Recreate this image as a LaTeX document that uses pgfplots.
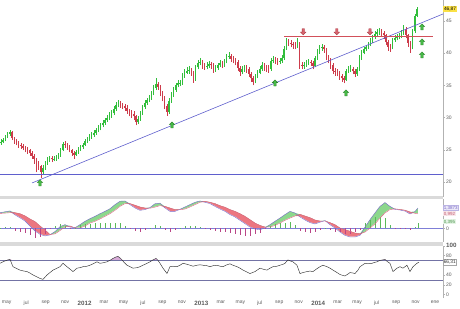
\documentclass[border=0pt]{standalone}
\usepackage{fontspec}
\setmainfont{Liberation Sans}
\usepackage{pgfplots}
\usepackage{pgfplotstable}
\pgfplotsset{compat=1.18}

\definecolor{cup}{RGB}{50,190,60}
\definecolor{cdn}{RGB}{205,60,75}
\definecolor{trend}{RGB}{95,95,205}
\definecolor{resist}{RGB}{210,80,90}
\definecolor{macdc}{RGB}{120,105,200}
\definecolor{sigc}{RGB}{215,100,125}
\definecolor{fillg}{RGB}{140,215,140}
\definecolor{fillr}{RGB}{236,118,128}
\definecolor{histp}{RGB}{90,185,90}
\definecolor{histn}{RGB}{185,70,135}
\definecolor{rsic}{RGB}{50,50,50}
\definecolor{rsil}{RGB}{115,115,165}
\definecolor{rsif}{RGB}{215,170,215}
\definecolor{band}{RGB}{218,218,218}
\definecolor{lab}{RGB}{90,90,90}
\definecolor{arrg}{RGB}{70,185,70}
\definecolor{arrgd}{RGB}{30,120,30}
\definecolor{arrr}{RGB}{215,100,110}
\definecolor{arrrd}{RGB}{165,55,65}
\definecolor{ybox}{RGB}{250,225,70}

\pgfdeclareplotmark{uparr}{%
 \pgfpathmoveto{\pgfqpoint{0pt}{3.2pt}}%
 \pgfpathlineto{\pgfqpoint{2.8pt}{0.4pt}}%
 \pgfpathlineto{\pgfqpoint{1.2pt}{0.4pt}}%
 \pgfpathlineto{\pgfqpoint{1.2pt}{-3pt}}%
 \pgfpathlineto{\pgfqpoint{-1.2pt}{-3pt}}%
 \pgfpathlineto{\pgfqpoint{-1.2pt}{0.4pt}}%
 \pgfpathlineto{\pgfqpoint{-2.8pt}{0.4pt}}%
 \pgfpathclose
 \pgfusepathqfillstroke}
\pgfdeclareplotmark{dnarr}{%
 \pgfpathmoveto{\pgfqpoint{0pt}{-3.2pt}}%
 \pgfpathlineto{\pgfqpoint{2.8pt}{-0.4pt}}%
 \pgfpathlineto{\pgfqpoint{1.2pt}{-0.4pt}}%
 \pgfpathlineto{\pgfqpoint{1.2pt}{3pt}}%
 \pgfpathlineto{\pgfqpoint{-1.2pt}{3pt}}%
 \pgfpathlineto{\pgfqpoint{-1.2pt}{-0.4pt}}%
 \pgfpathlineto{\pgfqpoint{-2.8pt}{-0.4pt}}%
 \pgfpathclose
 \pgfusepathqfillstroke}

\pgfplotstableread{
i o h l c
0 26.0 26.6 25.8 26.2
1 26.2 26.9 26.0 26.5
2 26.5 27.3 26.3 27.0
3 27.0 27.8 26.8 27.5
4 27.5 28.1 27.2 27.7
5 27.7 27.9 26.5 26.8
6 26.8 27.0 25.9 26.2
7 26.2 26.6 25.7 26.0
8 26.0 26.3 25.3 25.8
9 25.8 26.1 25.2 25.6
10 25.6 25.9 24.9 25.3
11 25.3 25.6 24.6 25.1
12 25.1 25.4 24.4 24.9
13 24.9 25.2 24.1 24.5
14 24.5 24.8 23.6 24.1
15 24.1 24.3 22.8 23.6
16 23.6 23.8 21.5 22.6
17 22.6 23.2 21.9 22.5
18 22.5 22.7 20.6 21.6
19 21.6 22.6 21.2 22.1
20 22.1 23.3 21.9 22.9
21 22.9 23.9 22.6 23.5
22 23.5 24.1 23.1 23.7
23 23.7 24.0 23.1 23.5
24 23.5 24.0 23.2 23.6
25 23.6 24.2 23.3 23.8
26 23.8 24.5 23.5 24.1
27 24.1 25.3 23.9 25.0
28 25.0 26.2 24.8 25.9
29 25.9 26.3 25.3 25.7
30 25.7 26.0 25.0 25.4
31 25.4 25.7 24.6 25.0
32 25.0 25.2 24.1 24.5
33 24.5 24.8 23.6 24.2
34 24.2 25.0 24.0 24.7
35 24.7 25.4 24.4 25.0
36 25.0 25.7 24.8 25.4
37 25.4 26.1 25.2 25.8
38 25.8 26.6 25.6 26.3
39 26.3 27.0 26.0 26.7
40 26.7 27.4 26.4 27.0
41 27.0 27.7 26.7 27.3
42 27.3 28.0 27.0 27.6
43 27.6 28.4 27.3 28.0
44 28.0 28.8 27.7 28.3
45 28.3 29.1 28.0 28.8
46 28.8 29.6 28.5 29.2
47 29.2 30.0 28.9 29.6
48 29.6 30.4 29.3 30.0
49 30.0 30.8 29.6 30.3
50 30.3 31.2 30.0 30.7
51 30.7 31.8 30.4 31.4
52 31.4 32.4 31.1 31.9
53 31.9 32.8 31.6 32.2
54 32.2 32.6 31.5 32.0
55 32.0 32.3 31.3 31.8
56 31.8 32.1 31.0 31.5
57 31.5 31.9 30.6 31.1
58 31.1 31.4 30.2 30.8
59 30.8 31.2 30.0 30.6
60 30.6 31.0 29.6 30.2
61 30.2 30.4 28.8 29.3
62 29.3 30.2 29.0 29.8
63 29.8 31.0 29.5 30.6
64 30.6 32.0 30.4 31.7
65 31.7 32.7 31.4 32.3
66 32.3 33.1 32.0 32.7
67 32.7 33.5 32.4 33.1
68 33.1 34.2 32.8 33.8
69 33.8 35.0 33.5 34.6
70 34.6 36.2 34.3 35.2
71 35.2 35.6 34.3 34.8
72 34.8 35.0 33.3 33.8
73 33.8 34.1 32.5 33.0
74 33.0 33.3 31.3 31.8
75 31.8 32.1 30.3 30.9
76 30.9 33.0 30.6 32.6
77 32.6 34.0 32.3 33.6
78 33.6 34.7 33.2 34.3
79 34.3 35.4 34.0 35.0
80 35.0 35.8 34.7 35.3
81 35.3 35.9 34.9 35.4
82 35.4 36.9 35.1 36.5
83 36.5 37.5 36.2 37.0
84 37.0 37.9 36.8 37.3
85 37.3 38.0 36.8 37.4
86 37.4 37.7 36.5 37.0
87 37.0 37.2 35.4 35.9
88 35.9 38.2 35.7 37.8
89 37.8 38.9 37.5 38.5
90 38.5 39.2 38.1 38.7
91 38.7 39.0 37.6 38.1
92 38.1 38.5 37.4 37.9
93 37.9 38.6 37.5 38.0
94 38.0 38.8 37.7 38.3
95 38.3 38.7 37.6 38.1
96 38.1 38.4 37.0 37.5
97 37.5 38.2 37.1 37.7
98 37.7 38.5 37.4 38.1
99 38.1 38.9 37.8 38.4
100 38.4 38.8 37.7 38.2
101 38.2 39.1 37.9 38.7
102 38.7 39.9 38.4 39.5
103 39.5 40.2 39.1 39.6
104 39.6 39.9 38.6 39.1
105 39.1 39.5 38.4 38.9
106 38.9 39.2 38.1 38.6
107 38.6 38.9 37.2 37.7
108 37.7 38.0 36.5 37.1
109 37.1 38.0 36.7 37.5
110 37.5 38.2 37.1 37.7
111 37.7 38.1 37.0 37.6
112 37.6 37.9 36.3 36.8
113 36.8 37.1 35.5 36.1
114 36.1 36.4 35.0 35.6
115 35.6 36.8 35.3 36.4
116 36.4 37.4 36.1 37.0
117 37.0 38.0 36.7 37.6
118 37.6 38.6 37.3 38.1
119 38.1 38.5 37.3 37.8
120 37.8 38.2 37.1 37.6
121 37.6 38.1 37.0 37.5
122 37.5 39.2 37.3 38.8
123 38.8 39.5 38.5 39.0
124 39.0 39.4 38.3 38.8
125 38.8 39.2 38.2 38.7
126 38.7 39.3 38.3 38.8
127 38.8 39.7 38.5 39.2
128 39.2 41.1 39.0 40.7
129 40.7 42.3 40.5 41.8
130 41.8 42.2 41.1 41.6
131 41.6 42.0 40.9 41.4
132 41.4 41.8 40.7 41.2
133 41.2 41.7 40.6 41.1
134 41.1 42.3 40.8 41.5
135 41.5 41.7 37.6 38.2
136 38.2 38.6 37.5 38.0
137 38.0 38.7 37.6 38.2
138 38.2 38.9 37.9 38.4
139 38.4 39.1 38.1 38.6
140 38.6 39.0 38.0 38.5
141 38.5 38.8 37.5 38.0
142 38.0 39.6 37.8 39.3
143 39.3 40.6 39.0 40.2
144 40.2 41.3 39.9 40.8
145 40.8 41.5 40.4 41.0
146 41.0 41.3 40.1 40.6
147 40.6 40.8 38.9 39.4
148 39.4 39.7 38.4 38.9
149 38.9 39.2 37.6 38.2
150 38.2 38.4 36.7 37.2
151 37.2 37.7 36.5 37.1
152 37.1 37.5 36.4 36.9
153 36.9 37.2 35.9 36.4
154 36.4 36.8 35.6 36.1
155 36.1 36.5 35.3 35.9
156 35.9 37.6 35.7 37.2
157 37.2 38.0 36.9 37.5
158 37.5 38.1 37.1 37.6
159 37.6 37.9 36.7 37.2
160 37.2 37.5 36.3 36.8
161 36.8 37.9 36.5 37.5
162 37.5 39.7 37.3 39.3
163 39.3 40.5 39.0 40.1
164 40.1 41.0 39.8 40.6
165 40.6 41.3 40.3 40.9
166 40.9 41.8 40.6 41.4
167 41.4 42.3 41.1 41.9
168 41.9 42.9 41.6 42.5
169 42.5 43.5 42.2 43.0
170 43.0 43.8 42.7 43.3
171 43.3 43.9 42.9 43.4
172 43.4 43.8 42.7 43.2
173 43.2 43.5 42.2 42.8
174 42.8 43.0 41.2 41.7
175 41.7 42.0 40.4 41.0
176 41.0 41.4 40.2 40.8
177 40.8 42.3 40.6 42.0
178 42.0 42.8 41.8 42.3
179 42.3 43.0 42.0 42.5
180 42.5 43.1 42.2 42.7
181 42.7 43.6 42.4 43.1
182 43.1 44.3 42.8 43.7
183 43.7 44.0 42.3 42.8
184 42.8 43.0 41.0 41.6
185 41.6 41.9 40.1 40.8
186 40.8 43.7 40.6 43.4
187 43.4 46.1 43.2 45.8
188 45.8 47.1 45.6 46.87
}\candles

\pgfplotstableread{
k macd sig
0 1.07 1.02
1 1.13 1.04
2 1.19 1.07
3 0.92 1.07
4 0.72 1.00
5 0.50 0.85
6 0.16 0.64
7 -0.18 0.46
8 -0.41 0.16
9 -0.52 -0.11
10 -0.45 -0.42
11 -0.22 -0.38
12 0.12 -0.15
13 0.25 0.10
14 0.09 0.16
15 0.04 0.03
16 0.25 0.02
17 0.48 0.16
18 0.66 0.36
19 0.82 0.48
20 1.00 0.64
21 1.16 0.82
22 1.34 1.00
23 1.62 1.23
24 1.85 1.50
25 1.87 1.69
26 1.62 1.69
27 1.39 1.58
28 1.23 1.46
29 1.28 1.39
30 1.42 1.37
31 1.68 1.45
32 1.72 1.55
33 1.39 1.50
34 1.16 1.39
35 1.16 1.28
36 1.30 1.27
37 1.46 1.32
38 1.62 1.46
39 1.78 1.62
40 1.87 1.78
41 1.78 1.85
42 1.69 1.78
43 1.50 1.69
44 1.32 1.55
45 1.16 1.44
46 0.94 1.28
47 0.78 1.16
48 0.55 1.00
49 0.32 0.82
50 0.09 0.59
51 -0.05 0.36
52 -0.09 0.20
53 0.02 0.09
54 0.25 0.09
55 0.48 0.20
56 0.70 0.36
57 0.94 0.55
58 1.16 0.70
59 1.05 0.84
60 0.78 0.96
61 0.57 0.84
62 0.39 0.73
63 0.30 0.57
64 0.42 0.50
65 0.53 0.50
66 0.25 0.39
67 0.02 0.25
68 -0.25 0.02
69 -0.48 -0.09
70 -0.59 -0.20
71 -0.59 -0.32
72 -0.48 -0.36
73 0.08 -0.26
74 0.59 0.02
75 1.05 0.30
76 1.50 0.70
77 1.76 1.05
78 1.50 1.28
79 1.30 1.33
80 1.25 1.29
81 1.18 1.24
82 0.98 1.12
83 1.15 1.03
83.6 1.3873 0.992
}\macdtab

\pgfplotstableread{
px r
0 64
4 68
8 71
10 72
13 57
17 53
20 50
24 48
27 47
30 44
33 40
37 36
40 33
43 31
47 40
50 45
53 50
57 54
60 57
63 64
67 57
70 52
73 47
77 54
80 55
83 57
87 58
90 60
93 63
97 67
100 64
103 65
107 67
110 70
113 74
116 77
118 78
120 75
122 71
124 66
127 60
130 57
133 54
137 55
140 57
143 60
147 64
150 67
153 71
156 74
158 70
160 64
163 54
167 43
170 57
173 58
177 57
180 60
183 64
187 62
190 60
193 58
197 60
200 61
203 60
207 59
210 57
213 59
217 60
220 58
223 57
227 61
230 63
233 60
237 57
240 54
243 50
247 46
250 43
255 47
260 54
263 52
267 50
270 54
273 57
277 58
280 60
283 62
285 64
288 71
290 69
293 67
297 60
300 43
303 45
307 47
310 48
313 47
317 53
320 57
323 60
327 57
330 54
333 50
337 45
340 41
343 39
345 38
348 42
350 45
353 44
355 43
358 50
360 57
363 61
365 64
368 63
372 64
375 66
377 67
380 70
383 71
385 72
387 68
390 64
393 47
397 54
400 57
403 54
407 60
410 47
413 57
417 64
419 66.31
}\rsitab

\pgfplotsset{
  panel/.style={
    scale only axis, width=443pt,
    xmin=3.312, xmax=48.82,
    axis y line*=right,
    y axis line style={draw=gray!60, line width=0.4pt},
    ytick pos=right, yticklabel pos=right,
    tick align=outside, major tick length=2pt,
    y tick style={draw=gray!60, line width=0.4pt},
    yticklabel style={font=\fontsize{5}{6}\selectfont, text=lab, inner sep=1pt},
    /pgf/number format/assume math mode=true,
    clip=false,
  },
}

\begin{document}
\begin{tikzpicture}
\useasboundingbox (0,0) rectangle (460pt,308pt);
\fill[band] (0pt,108.5pt) rectangle (443pt,111.5pt);
\fill[band] (0pt,62.5pt) rectangle (443pt,66.5pt);

% ---------------- price panel
\begin{axis}[panel, axis x line=none, at={(0pt,308pt)}, anchor=north west,
  height=197pt, ymin=17.67, ymax=48.26, ytick={20,25,30,35,40,45}]
\addplot[draw=cup, line width=0.5pt, quiver={u=0,v={(\thisrow{c}>\thisrow{o})*(\thisrow{h}-\thisrow{l})}}] table[x expr=3.415+0.2273*\thisrow{i}, y=l]{\candles};
\addplot[draw=cdn, line width=0.5pt, quiver={u=0,v={(\thisrow{c}<\thisrow{o})*(\thisrow{h}-\thisrow{l})}}] table[x expr=3.415+0.2273*\thisrow{i}, y=l]{\candles};
\addplot[draw=cup, line width=1.5pt, quiver={u=0,v={max(\thisrow{c}-\thisrow{o},0)}}] table[x expr=3.415+0.2273*\thisrow{i}, y=o]{\candles};
\addplot[draw=cdn, line width=1.5pt, quiver={u=0,v={max(\thisrow{o}-\thisrow{c},0)}}] table[x expr=3.415+0.2273*\thisrow{i}, y=c]{\candles};
\addplot[draw=trend, line width=0.6pt] coordinates {(6.60,19.85) (48.82,46.09)};
\addplot[draw=trend, line width=0.6pt] coordinates {(3.312,21.2) (48.82,21.2)};
\addplot[draw=resist, line width=0.6pt] coordinates {(32.49,42.56) (47.79,42.56)};
\addplot[only marks, mark=uparr, mark options={fill=arrg, draw=arrgd, line width=0.3pt}] coordinates {(7.42,19.85) (20.98,28.85) (31.56,35.37) (38.85,33.82) (46.66,44.07) (46.66,41.74) (46.66,39.72)};
\addplot[only marks, mark=dnarr, mark options={fill=arrr, draw=arrrd, line width=0.3pt}] coordinates {(34.47,43.34) (37.90,43.34) (41.32,43.34)};
\node[fill=ybox, anchor=west, inner sep=0.8pt, font=\fontsize{4.8}{5}\selectfont] at (axis cs:48.82,46.87) {46,87};
\end{axis}

% ---------------- MACD panel
\begin{axis}[panel, axis x line=none, at={(0pt,108.5pt)}, anchor=north west,
  height=42pt, ymin=-0.90, ymax=1.97, ytick={0}]
% fills: green where MACD above signal, red where below (layered over white)
\addplot[fill=fillg, draw=none] table[x expr=3.312+0.5136*\thisrow{k}, y expr={max(\thisrow{macd},\thisrow{sig})}]{\macdtab} -- (axis cs:46.2497,-0.9) -- (axis cs:3.312,-0.9) -- cycle;
\addplot[fill=fillr, draw=none] table[x expr=3.312+0.5136*\thisrow{k}, y=sig]{\macdtab} -- (axis cs:46.2497,-0.9) -- (axis cs:3.312,-0.9) -- cycle;
\addplot[fill=white, draw=white, line width=0.6pt] table[x expr=3.312+0.5136*\thisrow{k}, y expr={min(\thisrow{macd},\thisrow{sig})}]{\macdtab} -- (axis cs:46.2497,-0.9) -- (axis cs:3.312,-0.9) -- cycle;
\addplot[draw=trend!80, line width=0.5pt] coordinates {(3.312,0) (48.82,0)};
\addplot[draw=histp, line width=0.8pt, quiver={u=0,v={max(\thisrow{macd}-\thisrow{sig},0)}}] table[x expr=3.312+0.5136*\thisrow{k}, y expr=0]{\macdtab};
\addplot[draw=histn, line width=0.8pt, quiver={u=0,v={min(\thisrow{macd}-\thisrow{sig},0)}}] table[x expr=3.312+0.5136*\thisrow{k}, y expr=0]{\macdtab};
\addplot[draw=macdc, line width=0.4pt] table[x expr=3.312+0.5136*\thisrow{k}, y=macd]{\macdtab};
\addplot[draw=sigc, line width=0.4pt] table[x expr=3.312+0.5136*\thisrow{k}, y=sig]{\macdtab};
\node[fill=macdc!15, draw=macdc!50, text=macdc, anchor=west, inner sep=0.6pt, font=\fontsize{4.5}{5}\selectfont] at (axis cs:48.82,1.3873) {1,3873};
\node[fill=sigc!15, text=sigc!90!black, anchor=west, inner sep=0.6pt, font=\fontsize{4.5}{5}\selectfont] at (axis cs:48.82,0.992) {0,992};
\node[fill=histp!15, text=histp!80!black, anchor=west, inner sep=0.6pt, font=\fontsize{4.5}{5}\selectfont] at (axis cs:48.82,0.45) {0,395};
\end{axis}

% ---------------- RSI panel
\begin{axis}[panel, at={(0pt,62.5pt)}, anchor=north west,
  height=52.5pt, ymin=-7.2, ymax=100.5,
  ytick={0,20,40,80,100},
  yticklabels={0,20,40,80,{\fontsize{6.2}{7}\selectfont\bfseries 100}},
  axis x line*=bottom, x axis line style={draw=none}, x tick style={draw=none},
  xtick={4,6,...,48},
  xticklabels={may,jul,sep,nov,{\fontsize{6.2}{7}\selectfont\bfseries 2012},mar,may,jul,sep,nov,{\fontsize{6.2}{7}\selectfont\bfseries 2013},mar,may,jul,sep,nov,{\fontsize{6.2}{7}\selectfont\bfseries 2014},mar,may,jul,sep,nov,ene},
  xticklabel style={font=\fontsize{5}{6}\selectfont, text=lab, inner sep=0.5pt, yshift=-0.5pt}]
\addplot[fill=rsif, draw=none] table[x expr=3.312+0.10272*\thisrow{px}, y expr={max(\thisrow{r},70)}]{\rsitab} -- (axis cs:46.35,70) -- (axis cs:3.312,70) -- cycle;
\addplot[draw=rsil, line width=0.6pt] coordinates {(3.312,70) (48.82,70)};
\addplot[draw=rsil, line width=0.6pt] coordinates {(3.312,30) (48.82,30)};
\addplot[draw=rsic, line width=0.45pt] table[x expr=3.312+0.10272*\thisrow{px}, y=r]{\rsitab};
\node[fill=white, draw=gray!70, text=black!80, anchor=west, inner sep=0.6pt, font=\fontsize{4.8}{5}\selectfont] at (axis cs:48.82,66.31) {66,31};
\end{axis}
\end{tikzpicture}
\end{document}
